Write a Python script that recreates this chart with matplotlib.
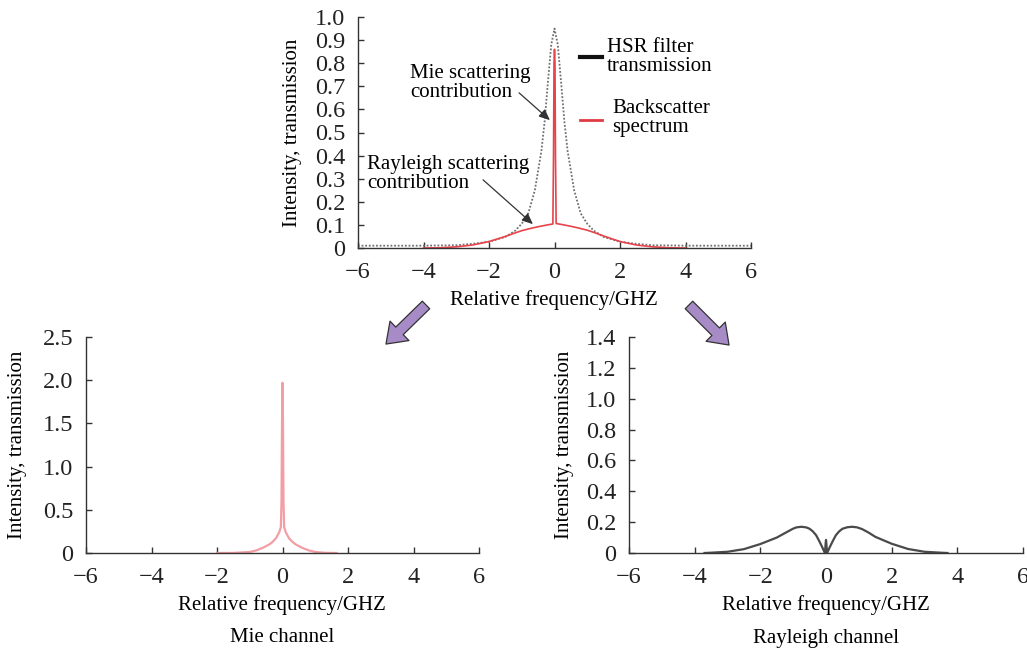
import matplotlib.pyplot as plt
from matplotlib.patches import FancyArrowPatch

plt.rcParams['font.family'] = ['Liberation Serif', 'DejaVu Serif']
plt.rcParams['font.size'] = 15

# ---- data ----
# top panel: HSR filter transmission (dotted)
hsr_f = [-6, -5, -4, -3, -2.5, -2, -1.5, -1.2, -1, -0.8, -0.6, -0.4, -0.3, -0.2, -0.1, 0,
         0.1, 0.2, 0.3, 0.4, 0.6, 0.8, 1, 1.2, 1.5, 2, 2.5, 3, 4, 5, 6]
hsr_v = [0.01, 0.01, 0.01, 0.012, 0.018, 0.027, 0.048, 0.075, 0.105, 0.15, 0.25, 0.42, 0.55, 0.72, 0.88, 0.95,
         0.88, 0.72, 0.55, 0.42, 0.25, 0.15, 0.105, 0.075, 0.048, 0.027, 0.018, 0.012, 0.01, 0.01, 0.01]

# top panel: backscatter spectrum (Rayleigh + Mie spike)
back_f = [-4, -3.5, -3, -2.5, -2, -1.5, -1.25, -1, -0.75, -0.5, -0.25, -0.05, -0.03, -0.015, 0,
          0.015, 0.03, 0.05, 0.25, 0.5, 0.75, 1, 1.25, 1.5, 2, 2.5, 3, 3.5, 4]
back_v = [0, 0.001, 0.005, 0.013, 0.028, 0.05, 0.063, 0.075, 0.084, 0.092, 0.099, 0.104, 0.4, 0.8, 0.86,
          0.8, 0.4, 0.106, 0.101, 0.094, 0.086, 0.077, 0.065, 0.052, 0.028, 0.013, 0.005, 0.001, 0]

# bottom left: Mie channel
mie_f = [-2, -1.5, -1, -0.8, -0.6, -0.4, -0.3, -0.2, -0.1, -0.05, -0.03, -0.015, 0,
         0.015, 0.03, 0.05, 0.1, 0.2, 0.3, 0.4, 0.6, 0.8, 1, 1.3, 1.65]
mie_v = [0, 0.001, 0.012, 0.03, 0.06, 0.1, 0.13, 0.17, 0.24, 0.3, 0.6, 1.5, 1.97,
         1.5, 0.6, 0.3, 0.24, 0.17, 0.13, 0.1, 0.06, 0.03, 0.012, 0.002, 0]

# bottom right: Rayleigh channel
ray_f = [-3.7, -3.5, -3, -2.5, -2, -1.5, -1.2, -1, -0.9, -0.75, -0.6, -0.5, -0.4, -0.3, -0.2, -0.12,
         -0.06, -0.03, -0.012, 0, 0.012, 0.03, 0.06, 0.12, 0.2, 0.3, 0.4, 0.5, 0.65, 0.8, 0.95,
         1.1, 1.3, 1.5, 2, 2.5, 3, 3.5, 3.7]
ray_v = [0, 0.002, 0.008, 0.025, 0.058, 0.1, 0.135, 0.158, 0.166, 0.17, 0.166, 0.157, 0.14, 0.115, 0.075, 0.04,
         0.012, 0.0, 0.06, 0.085, 0.06, 0.0, 0.012, 0.04, 0.075, 0.115, 0.14, 0.157, 0.167, 0.17, 0.166,
         0.155, 0.132, 0.105, 0.06, 0.026, 0.008, 0.002, 0]

xticks = [-6, -4, -2, 0, 2, 4, 6]
W, H = 1027, 652


def fx(px):
    return px / W


def fy(py):
    return 1 - py / H


def style(ax):
    ax.spines['top'].set_visible(False)
    ax.spines['right'].set_visible(False)
    for s in ('left', 'bottom'):
        ax.spines[s].set_color('#333333')
        ax.spines[s].set_linewidth(1.0)
    ax.tick_params(direction='in', length=4, width=1, colors='#333333', labelcolor='#222222',
                   labelsize=17.5)
    ax.tick_params(axis='x', pad=10)
    ax.tick_params(axis='y', pad=9)
    ax.set_xlim(-6, 6)
    ax.set_xticks(xticks)
    ax.set_xticklabels(['\u22126', '\u22124', '\u22122', '0', '2', '4', '6'])


fig = plt.figure(figsize=(W / 100, H / 100), dpi=100)

# ---- top panel ----
ax = fig.add_axes([fx(358), fy(248), 393 / W, 231 / H])
style(ax)
ax.plot(hsr_f, hsr_v, color='#707070', lw=1.3, ls=(0, (1, 1)))
ax.plot(back_f, back_v, color='#e8434b', lw=1.2)
ax.set_ylim(0, 1.0)
ax.set_yticks([i / 10 for i in range(11)])
ax.set_yticklabels(['0'] + ['%.1f' % (i / 10) for i in range(1, 11)])

fig.text(fx(554), fy(300), 'Relative frequency/GHZ', ha='center', va='center')
fig.text(fx(292), fy(133), 'Intensity, transmission', rotation=90, ha='center', va='center')

# legend drawn by hand
fig.add_artist(plt.Line2D([fx(580), fx(602)], [fy(57), fy(57)], color='#111111', lw=3))
fig.add_artist(plt.Line2D([fx(580), fx(602)], [fy(120), fy(120)], color='#e03a42', lw=2))
fig.text(fx(607), fy(57), 'HSR filter\ntransmission', ha='left', va='center', linespacing=0.95)
fig.text(fx(612), fy(118), 'Backscatter\nspectrum', ha='left', va='center', linespacing=0.95)

# annotations
fig.text(fx(410), fy(83), 'Mie scattering\ncontribution', ha='left', va='center', linespacing=0.95)
fig.text(fx(367), fy(174), 'Rayleigh scattering\ncontribution', ha='left', va='center', linespacing=0.95)
fig.add_artist(FancyArrowPatch((fx(517), fy(91)), (fx(552), fy(122)), transform=fig.transFigure,
                               arrowstyle='-|>,head_length=0.5,head_width=0.22', mutation_scale=13,
                               color='#333333', lw=0.9))
fig.add_artist(FancyArrowPatch((fx(481), fy(178)), (fx(535), fy(226)), transform=fig.transFigure,
                               arrowstyle='-|>,head_length=0.5,head_width=0.22', mutation_scale=13,
                               color='#333333', lw=0.9))

# purple block arrows
for tail, head in [((428, 303), (384, 346)), ((687, 303), (731, 347))]:
    fig.add_artist(FancyArrowPatch((fx(tail[0]), fy(tail[1])), (fx(head[0]), fy(head[1])),
                                   transform=fig.transFigure,
                                   arrowstyle='simple,head_length=0.8,head_width=1.15,tail_width=0.45',
                                   mutation_scale=17, facecolor='#a78bc6', edgecolor='#333333', lw=0.9))

# ---- bottom left: Mie channel ----
ax1 = fig.add_axes([fx(86), fy(553), 393 / W, 216 / H])
style(ax1)
ax1.plot(mie_f, mie_v, color='#f29ea4', lw=1.6)
ax1.set_ylim(0, 2.5)
ax1.set_yticks([0, 0.5, 1.0, 1.5, 2.0, 2.5])
ax1.set_yticklabels(['0', '0.5', '1.0', '1.5', '2.0', '2.5'])
fig.text(fx(282), fy(605), 'Relative frequency/GHZ', ha='center', va='center')
fig.text(fx(282), fy(638), 'Mie channel', ha='center', va='center')
fig.text(fx(18), fy(445), 'Intensity, transmission', rotation=90, ha='center', va='center')

# ---- bottom right: Rayleigh channel ----
ax2 = fig.add_axes([fx(629), fy(553), 394 / W, 216 / H])
style(ax2)
ax2.plot(ray_f, ray_v, color='#4a4a4a', lw=1.6)
ax2.set_ylim(0, 1.4)
ax2.set_yticks([0, 0.2, 0.4, 0.6, 0.8, 1.0, 1.2, 1.4])
ax2.set_yticklabels(['0', '0.2', '0.4', '0.6', '0.8', '1.0', '1.2', '1.4'])
fig.text(fx(826), fy(605), 'Relative frequency/GHZ', ha='center', va='center')
fig.text(fx(826), fy(638), 'Rayleigh channel', ha='center', va='center')
fig.text(fx(565), fy(445), 'Intensity, transmission', rotation=90, ha='center', va='center')

fig.savefig('out.png', dpi=100)
